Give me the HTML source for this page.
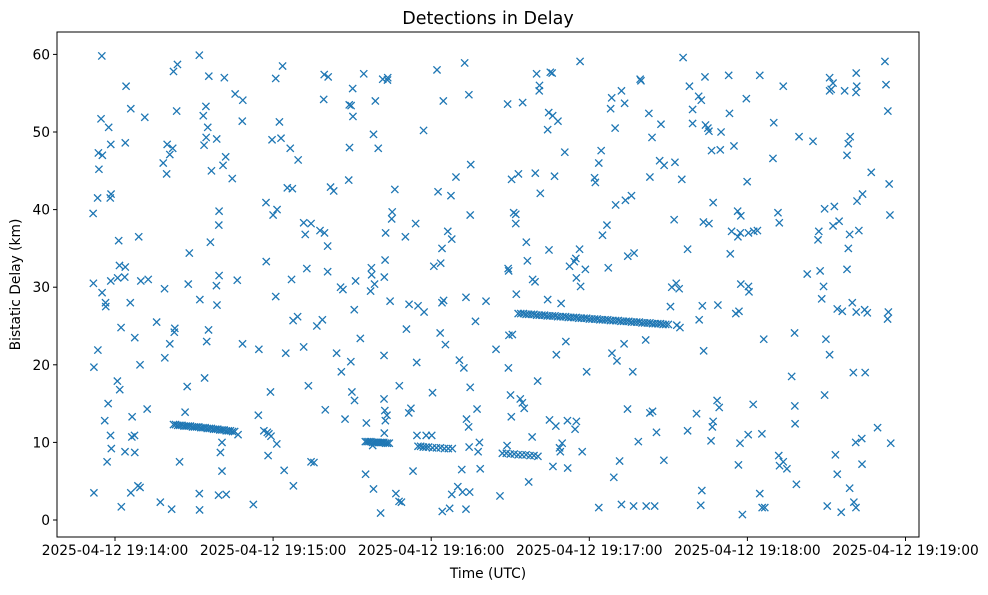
<!DOCTYPE html>
<html><head><meta charset="utf-8"><style>
body{margin:0;background:#fff;font-family:"Liberation Sans","DejaVu Sans",sans-serif}
svg text{font-family:"DejaVu Sans","Liberation Sans",sans-serif;font-size:13.8px;fill:#000}
</style></head><body>
<svg id="chart" width="988" height="590" xmlns="http://www.w3.org/2000/svg"></svg>
<script>
// time in seconds since 2025-04-12 19:14:00 UTC, delay in km
const xTickSeconds=[0,60,120,180,240,300];
const xTickLabels=["2025-04-12 19:14:00","2025-04-12 19:15:00","2025-04-12 19:16:00","2025-04-12 19:17:00","2025-04-12 19:18:00","2025-04-12 19:19:00"];
const yTicks=[0,10,20,30,40,50,60];
const scatterPoints=[
[-8,3.5],[-8,19.7],[-8.2,30.5],[-8.3,39.5],[-6.5,21.9],[-6.6,41.5],[-6.3,47.3],[-6.1,45.2],[-5,59.8],[-5.3,51.7],[-4.8,47],[-4.9,29.3],
[-3.6,28],[-3.5,27.5],[-3.9,12.8],[-3,7.5],[-2.6,15],[-1.7,10.9],[-1.4,9.2],[-2.4,50.6],[-1.6,48.4],[-1.5,42],[-1.8,41.5],[-1.6,30.8],
[1,31.2],[1.7,32.8],[1.4,36],[0.9,17.9],[1.8,16.8],[2.3,24.8],[2.4,1.7],[3.8,8.8],[3.7,31.3],[3.9,32.6],[3.9,48.6],[4.2,55.9],
[6,53],[5.8,28],[9.8,30.8],[7.5,23.5],[6.5,13.3],[6.4,10.7],[7.4,10.9],[6,3.5],[8.7,4.4],[9.5,4.2],[7.5,8.7],[9,36.5],[9.5,20],[11.3,51.9],[12.6,31],
[15.8,25.5],[12.2,14.3],[17.2,2.3],[18.3,46],[19.8,48.4],[20.8,47.1],[19.6,44.6],[18.8,29.8],[18.9,20.9],[20.8,22.7],[22.5,24.2],[22.7,24.7],[22.2,57.8],[23.7,58.7],[23.4,52.7],[21.9,47.9],[21.5,1.4],
[27.8,30.4],[28.2,34.4],[27.4,17.2],[26.6,13.9],[24.5,7.5],[32,59.9],[33.5,52.1],[34.5,53.3],[32.1,1.3],[32,3.4],[32.2,28.4],[34,18.3],[34.8,23],[35.5,24.5],[33.8,48.3],
[35.2,50.6],[34.6,49.3],[36.6,45],[35.6,57.2],[36.2,35.8],[38.7,27.7],[38.5,30.2],[39.5,31.5],[39.5,39.8],[39.4,38],[38.6,49.1],[41,45.7],[41.5,57],[42,46.8],[40.6,10],[39.3,3.2],[42.2,3.3],[40.6,6.3],[40,8.7],[44.5,44],[45.6,54.9],[48.3,51.4],[48.5,54.1],[46.4,30.9],[48.4,22.7],[46.7,11],
[52.5,2],[54.4,13.5],[56.5,11.5],[54.6,22],[57.4,33.3],[57.3,40.9],[59,16.5],[58.1,8.3],[57.8,11.3],[58.4,11.1],[59.2,10.8],[59.6,49],[61,56.9],[60,39.3],[61.5,40],[61,28.8],[61.4,9.8],[64.2,6.4],
[63.6,58.5],[62.4,51.3],[63,49.2],[66.5,47.9],[65.4,42.8],[67.3,42.7],[64.8,21.5],[67,31],[67.7,4.4],[67.6,25.7],[69.5,46.4],[71.6,38.3],[72.2,36.8],[69.3,26.2],[71.6,22.3],[72.8,32.4],[73.4,17.3],[74.4,7.5],[75.5,7.4],[74.4,38.2],[77.8,37.3],
[79.4,57.4],[80.9,57.1],[79.2,54.2],[79.5,37],[80.7,35.3],[80.7,32],[76.6,25],[78.7,25.8],[79.8,14.2],[81.8,42.9],[83,42.4],[84.1,21.5],[85.6,30],[86.5,29.7],[85.9,19.1],[87.3,13],[88.7,43.8],[89,48],[88.9,53.5],[89.6,53.4],[90.2,55.6],[90.3,52],[89.5,20.4],[89.9,16.5],[90.9,15.4],[91.3,30.8],[90.8,27.1],
[94.4,57.5],[93.1,23.4],[95.1,5.9],[95.4,12.5],[97.4,31.6],[98.5,30.4],[97.3,32.5],[97,29.5],[98.1,49.7],[99.9,47.9],[98.8,54],[97.8,9.6],[98.1,4],[100.8,0.9],[102.1,21.2],[102.7,37],[101.6,56.8],[103.5,57],[103.4,56.7],[102.5,33.5],[102.2,31.3],[104.4,28.2],[102.1,15.6],[102.4,14.1],[102.6,12.8],[102.2,11.2],[103.2,13.5],[105.2,39.7],[105,38.8],
[106.2,42.6],[106.6,3.4],[107.8,2.4],[108.7,2.3],[107.9,17.3],[110.2,36.5],[111.6,27.8],[110.6,24.6],[111.5,13.8],[112.3,14.4],[113.1,6.3],[114.1,38.2],[115,27.6],[117.3,26.8],[114.5,20.3],[117.1,50.2],[114.6,10.9],[118.1,10.9],[120.5,16.4],[120.2,10.9],
[121,32.7],[123.6,33.1],[122.2,58],[122.6,42.3],[123.4,24.1],[124.1,28],[124.7,28.3],[125.4,22.6],[124.1,35],[126.3,37.2],[124.6,54],[127.5,41.8],[127.8,36.2],[124.2,1.1],[127,1.5],[127.8,3.3],[130.1,4.3],[129.4,44.2],[130.7,20.6],[132.4,19.6],[133.2,28.7],[133.4,13],[134.2,12],[134.4,9.4],[131.6,6.5],[131.9,3.6],[133.2,1.4],[134.6,3.6],[132.7,58.9],[134.3,54.8],[135,45.8],[134.8,39.3],[134.8,17.1],
[136.8,25.6],[137.4,14.3],[138.3,10],[138.6,6.6],[140.8,28.2],[137.8,8.8],[144.6,22],[146.1,3.1],[148.8,9.6],[149,53.6],[149.2,32.4],[149.4,32.1],[149.5,23.8],[150.8,23.9],[149.3,19.6],[150.1,16.1],[150.4,13.3],[150.5,43.9],[151.3,39.6],[152.1,39.4],[152.1,38.2],[153.1,44.6],[152.3,29.1],[153.8,15.6],[154.6,15.1],[155.3,14.4],
[154.7,53.8],[160,57.5],[161.1,56],[161,55.3],[159.5,44.7],[156.1,35.8],[156.5,33.4],[158.5,31],[159.4,30.7],[158.3,10.7],[157,4.9],[160.4,17.9],[161.4,42.1],[164.6,52.5],[164.2,50.3],[165.2,57.7],[165.9,57.6],[166.1,52.1],[168.1,51.4],[166.8,44.3],[164.7,34.8],[164.2,28.4],[164.9,12.9],[167.3,12.1],[169.7,9.9],[166.2,6.9],[168.7,9.3],[169,8.8],[169.3,27.9],
[170.7,47.4],[174.3,33.3],[172.5,32.7],[175.1,31.2],[171.1,23],[167.5,21.3],[171.7,12.8],[174.6,11.7],[171.8,6.7],[175.1,12.7],[176.5,59.1],[176.3,34.9],[174.9,33.7],[178.5,32.3],[176.7,30.1],[182,44.1],[182.3,43.5],[179,19.1],[177.3,8.8],
[183.6,1.6],[185,36.7],[187.2,32.5],[186.7,38],[183.6,46],[184.5,47.6],[188.1,53],[188.5,54.4],[189.8,50.5],[192.2,55.3],[190,40.6],[193.4,53.7],[188.6,21.5],[190.5,20.5],[189.3,5.5],[192.2,2],[191.5,7.6],[196.8,1.8],[193.7,41.2],[196,41.8],[194.6,34],[197,34.4],[193.2,22.7],[196.5,19.1],[194.5,14.3],[198.6,10.1],[201.6,1.8],[199.3,56.8],[199.6,56.6],[202.6,52.4],[203.8,49.3],[207.2,51],[206.7,46.3],[208.4,45.7],[203,44.2],
[201.4,23.2],[203,13.8],[204,14],[205.5,11.3],[208.3,7.7],[204.8,1.8],[210.8,27.5],[212.5,46.1],[212.2,38.7],[213,30.5],[214.1,29.8],[214.4,24.8],[213.2,25.1],[217.3,11.5],[215.6,59.6],[218,55.9],[219.2,52.9],[219.2,51.1],[221.5,54.6],[222.5,54.1],[224.1,50.9],[215.1,43.9],[217.3,34.9],[211.3,30],[222.9,27.6],[221.7,25.8],[223.4,21.8],[220.7,13.7],[222.7,3.8],[222.3,1.9],
[223.9,57.1],[225,50.5],[225.4,50.1],[223.3,38.4],[225.4,38.2],[226.4,47.6],[227,40.9],[228.5,15.4],[229.3,14.5],[227,12.7],[226.7,12],[226.2,10.2],[230,50],[233.2,52.4],[234.9,48.2],[229.7,47.7],[233.5,34.3],[234,37.2],[236.4,36.5],[228.8,27.7],[235.6,26.6],[236.8,26.9],[237.2,9.9],[236.6,7.1],[238.1,0.7],[232.9,57.3],[239.6,54.3],[236.3,39.8],[237.5,39.2],[237.3,37],[237.5,30.4],[240.4,30.1],[239.9,43.6],
[240.4,37],[242.4,37.2],[243.8,37.3],[240.6,29.4],[240.3,11],[242.2,14.9],[245.5,11.1],[244.7,3.4],[245.6,1.6],[246.6,1.6],[246.2,23.3],[244.7,57.3],[250,51.2],[249.7,46.6],[251.6,39.6],[252.1,38.3],[251.9,8.3],[253.6,7.5],[252.2,7],[255,6.6],[256.8,18.5],[253.6,55.9],[259.6,49.4],[257.9,24.1],[258,14.7],[258.1,12.4],[258.6,4.6],
[262.7,31.7],[264.9,48.8],[266.8,36.1],[267.1,37.2],[267.6,32.1],[268.9,30.1],[268.2,28.5],[269.8,23.3],[271.2,21.3],[269.3,16.1],[270.3,1.8],[271.2,57],[271.2,55.3],[272.5,56.3],[271.8,55.5],[269.3,40.1],[273,40.4],[272.5,37.9],[274.8,38.5],[274.1,27.2],[276,26.9],[273.4,8.4],[274.1,5.9],[275.6,1],[279,49.4],[278.3,48.5],[277.8,47],[276.9,55.3],[278.8,36.8],[278.3,35],[277.8,32.3],[279.8,28],[281.3,26.8],[280.2,19],[278.8,4.1],[280.4,2.3],
[281.3,57.6],[281.5,55.9],[281.2,55.1],[281.6,41.1],[283.7,42],[282.3,37.3],[284.5,27.1],[284.7,19],[281.1,10],[283.5,7.2],[283.4,10.5],[281.2,1.6],[285.5,26.7],[287,44.8],[289.4,11.9],[292.2,59.1],[292.6,56.1],[293.3,52.7],[293.8,43.3],[294.1,39.3],[293.5,26.8],[293.2,25.9],[294.4,9.9]
];
const trackTimes1=[22.2,23,23.8,24.6,25.4,26.2,27,27.8,28.6,29.4,30.2,31,31.8,32.6,33.4,34.2,35,35.8,36.6,37.4,38.2,39,39.8,40.6,41.4,42.2,43,43.8,44.6,45.4];
const trackKm1=[12.3,12.3,12.2,12.2,12.2,12.1,12.1,12.1,12.1,12,12,12,12,11.9,11.9,11.9,11.8,11.8,11.8,11.7,11.7,11.7,11.6,11.6,11.6,11.5,11.5,11.5,11.4,11.4];
const trackTimes2=[95,95.7,96.4,97.1,97.8,98.5,99.2,99.9,100.6,101.3,102,102.7,103.4,104.1];
const trackKm2=[10.1,10.1,10.1,10.1,10,10,10,10,10,10,10,9.9,9.9,9.9];
const trackTimes3=[115,116,117,118,119,120.5,122,123.5,125,126.5,128];
const trackKm3=[9.5,9.5,9.4,9.4,9.4,9.3,9.3,9.3,9.2,9.2,9.2];
const trackTimes4=[147,148.5,150,151.5,153,154.5,156,157.5,159,160.5];
const trackKm4=[8.6,8.6,8.5,8.5,8.4,8.4,8.4,8.3,8.3,8.2];
const trackTimes5=[153,154,155,156,157,158,159,160,161,162,163,164,165,166,167,168,169,170,171,172,173,174,175,176,177,178,179,180,181,182,183,184,185,186,187,188,189,190,191,192,193,194,195,196,197,198,199,200,201,202,203,204,205,206,207,208,209,210];
const trackKm5=[26.6,26.6,26.6,26.5,26.5,26.5,26.5,26.4,26.4,26.4,26.4,26.3,26.3,26.3,26.3,26.2,26.2,26.2,26.2,26.1,26.1,26.1,26.1,26,26,26,26,25.9,25.9,25.9,25.9,25.8,25.8,25.8,25.8,25.7,25.7,25.7,25.7,25.6,25.6,25.6,25.6,25.5,25.5,25.5,25.5,25.4,25.4,25.4,25.4,25.3,25.3,25.3,25.3,25.2,25.2,25.2];

const NS="http://www.w3.org/2000/svg";
const svg=document.getElementById('chart');
const L=57,R=919,T=32,B=537;
const X=t=>115+(t/60)*158.1;
const Y=v=>520-v*7.76;
function el(tag,attrs,parent){const e=document.createElementNS(NS,tag);for(const k in attrs)e.setAttribute(k,attrs[k]);(parent||svg).appendChild(e);return e;}
const title=el('text',{x:(L+R)/2,y:24,'text-anchor':'middle',style:'font-size:17.5px'});title.textContent='Detections in Delay';


const frame=el('rect',{x:L,y:T,width:R-L,height:B-T,fill:'none',stroke:'#000','stroke-width':1});


const marks=el('g',{stroke:'#1f77b4','stroke-width':1.3,fill:'none'});


function mark(t,v){const cx=X(t),cy=Y(v),s=3.6;
 const p=el('path',{d:`M${cx-s},${cy-s}L${cx+s},${cy+s}M${cx-s},${cy+s}L${cx+s},${cy-s}`},marks);
 
 }
scatterPoints.forEach(p=>mark(p[0],p[1]));
[[trackTimes1,trackKm1],[trackTimes2,trackKm2],[trackTimes3,trackKm3],[trackTimes4,trackKm4],[trackTimes5,trackKm5]].forEach(([ts,ks])=>ts.forEach((t,i)=>mark(t,ks[i])));
xTickSeconds.forEach((t,i)=>{const x=X(t);
 el('line',{x1:x,x2:x,y1:B,y2:B+4,stroke:'#000'});
 const tx=el('text',{x:x,y:B+18,'text-anchor':'middle'});tx.textContent=xTickLabels[i];
 
 });
yTicks.forEach(v=>{const y=Y(v);
 el('line',{x1:L-4,x2:L,y1:y,y2:y,stroke:'#000'});
 const tx=el('text',{x:L-7,y:y+5,'text-anchor':'end'});tx.textContent=v;
 
 });
const xt=el('text',{x:(L+R)/2,y:578,'text-anchor':'middle'});xt.textContent='Time (UTC)';


const yt=el('text',{x:0,y:0,'text-anchor':'middle',transform:`translate(20,${(T+B)/2}) rotate(-90)`});yt.textContent='Bistatic Delay (km)';


</script>
</body></html>
